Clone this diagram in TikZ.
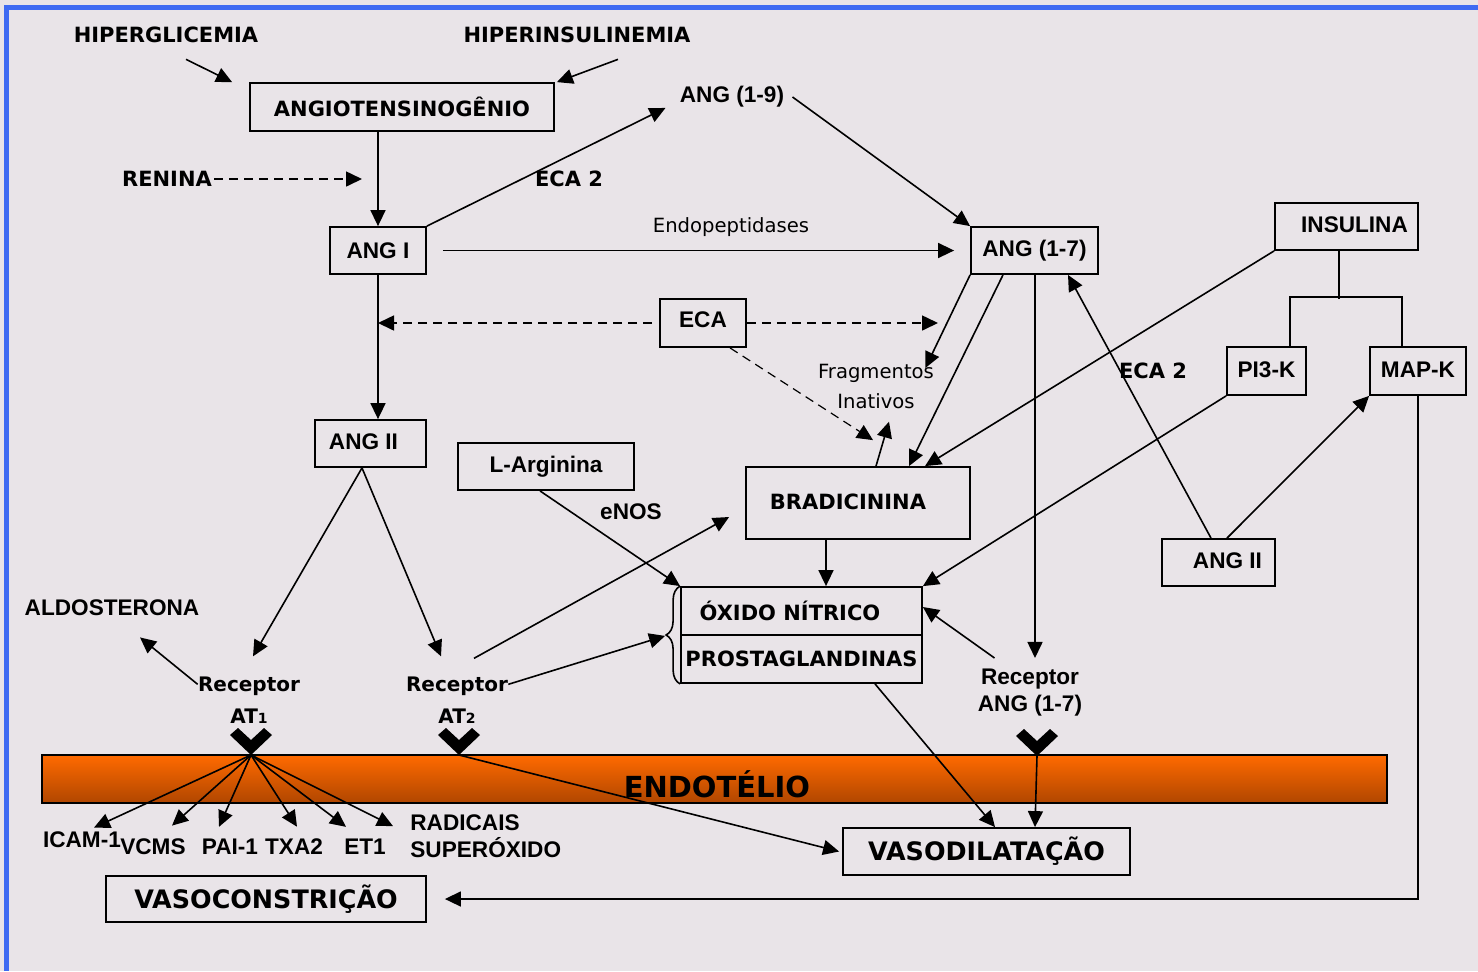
\documentclass[tikz,border=0pt]{standalone}
\usepackage{fontspec}
\setmainfont{Liberation Sans}
\newfontfamily\comicfont{DejaVu Sans}
\usetikzlibrary{arrows.meta,decorations.pathreplacing}
\definecolor{fundo}{HTML}{E9E4E8}
\definecolor{azul}{HTML}{3F6AF2}
\definecolor{laranja}{HTML}{FF6A00}
\definecolor{laranjamed}{HTML}{F26200}
\definecolor{laranjaesc}{HTML}{B04600}
\begin{document}
\begin{tikzpicture}[x=0.5pt, y=-0.5pt,
    caixa/.style={draw, line width=0.9pt, inner sep=0pt},
    arial/.style={font=\bfseries\fontsize{11.3}{13.5}\selectfont, inner sep=0pt},
    comic/.style={font=\comicfont\bfseries\fontsize{10.5}{16}\selectfont, inner sep=0pt},
    comicfino/.style={font=\comicfont\fontsize{9.8}{15}\selectfont, inner sep=0pt},
    seta/.style={-{Triangle[length=8pt,width=7.5pt]}, line width=0.8pt},
    tracejada/.style={seta, dash pattern=on 4.5pt off 3pt}]
    % Fundo e moldura
    \useasboundingbox (0,0) rectangle (1478,971);
    \fill[fundo] (0,0) rectangle (1478,971);
    \fill[azul] (4,5) rectangle (1478,10);
    \fill[azul] (4,5) rectangle (9,971);
    % Endotelio
    \node[draw, line width=0.8pt, inner sep=0pt, top color=laranja, middle color=laranjamed, bottom color=laranjaesc,
      minimum width=672.5pt, minimum height=24pt] (endot) at (714.5,779) {};
    \node[comic, font=\comicfont\bfseries\fontsize{14.5}{16}\selectfont] (endotxt) at (717,784) {ENDOTÉLIO};
    % Cascata superior
    \node[comic] (hiperg) at (166,35) {HIPERGLICEMIA};
    \node[comic] (hiperins) at (577,35) {HIPERINSULINEMIA};
    \node[caixa, comic, minimum width=152pt, minimum height=24pt] (angiot) at (402,107) {ANGIOTENSINOGÊNIO};
    \node[arial] (ang19) at (732,97) {ANG (1-9)};
    \node[comic] (renina) at (167,179) {RENINA};
    \coordinate (renTip) at (362,179);
    \node[caixa, arial, minimum width=48pt, minimum height=23.5pt] (angI) at (378,250.5) {ANG I};
    \node[comic] (eca2a) at (569,179) {ECA 2};
    \node[comicfino] (endo) at (731,227) {Endopeptidases};
    \node[caixa, arial, minimum width=63.5pt, minimum height=23.5pt] (ang17) at (1034.5,250.5) {ANG (1-7)};
    % Insulina
    \node[caixa, arial, minimum width=71.5pt, minimum height=23.5pt] (insulina) at (1346.5,226.5) {\raisebox{1.5pt}{\hspace{8pt}INSULINA}};
    \node[caixa, arial, minimum width=39.5pt, minimum height=24pt] (pik) at (1266.5,371) {\raisebox{1.5pt}{PI3-K}};
    \node[caixa, arial, minimum width=48pt, minimum height=24pt] (mapk) at (1418,371) {\raisebox{1.5pt}{MAP-K}};
    % ECA
    \node[caixa, arial, minimum width=43pt, minimum height=24pt] (eca) at (703,323) {\raisebox{3pt}{ECA}};
    \coordinate (ecaTip) at (938,323);
    \node[comicfino, align=center] (frag) at (876,386) {Fragmentos\\Inativos};
    \node[caixa, arial, minimum width=55.5pt, minimum height=23.5pt] (angII) at (370.5,443.5) {\raisebox{2pt}{ANG II\hspace{7pt}}};
    \node[caixa, arial, minimum width=88pt, minimum height=23.5pt] (larg) at (546,466.5) {\raisebox{1.5pt}{L-Arginina}};
    \node[arial] (enos) at (631,512) {eNOS};
    \node[caixa, comic, minimum width=112pt, minimum height=36pt] (brad) at (858,503) {\raisebox{1pt}{BRADICININA\hspace{10pt}}};
    \node[caixa, arial, minimum width=56.5pt, minimum height=23.5pt] (angIIb) at (1218.5,562.5) {\raisebox{2pt}{\hspace{9pt}ANG II}};
    \node[comic] (eca2b) at (1153,371) {ECA 2};
    \node[caixa, comic, minimum width=120.5pt, minimum height=24pt] (oxido) at (801.5,611) {\raisebox{0pt}{ÓXIDO NÍTRICO\hspace{11.5pt}}};
    \node[caixa, comic, minimum width=120.5pt, minimum height=24pt] (prosta) at (801.5,659) {PROSTAGLANDINAS};
    % Receptores
    \node[arial, align=center] (rec17) at (1030,693) {Receptor\\ANG (1-7)};
    \node[arial] (aldo) at (112,608) {ALDOSTERONA};
    \node[comic, font=\comicfont\bfseries\fontsize{10}{16}\selectfont, align=center] (recat1) at (249,700) {Receptor\\AT{\fontsize{7}{8}\selectfont 1}};
    \node[comic, font=\comicfont\bfseries\fontsize{10}{16}\selectfont, align=center] (recat2) at (457,700) {Receptor\\AT{\fontsize{7}{8}\selectfont 2}};
    \coordinate (at1) at (251,741);
    \coordinate (at2) at (459,741);
    \coordinate (r17) at (1037,742);
    \coordinate (at1tip) at (251,755);
    \coordinate (at2tip) at (459,755);
    \coordinate (r17tip) at (1037,756);
    \foreach \p in {at1,at2,r17}
      \fill[shift={(\p)}] (0,14) -- (-21,-6) -- (-13,-13) -- (0,-1) -- (13,-13) -- (21,-6) -- cycle;
    % Produtos
    \node[arial] (icam) at (82,840) {ICAM-1};
    \node[arial] (vcms) at (153,847) {VCMS};
    \node[arial] (pai) at (230,847) {PAI-1};
    \node[arial] (txa) at (294,847) {TXA2};
    \node[arial] (et1) at (365,847) {ET1};
    \node[arial, align=left, anchor=west] (radic) at (410,836) {RADICAIS\\SUPERÓXIDO};
    \node[caixa, comic, font=\comicfont\bfseries\fontsize{12.7}{15}\selectfont, minimum width=143.5pt, minimum height=23.5pt] (vasod) at (986.5,851.5) {VASODILATAÇÃO};
    \node[caixa, comic, font=\comicfont\bfseries\fontsize{12.7}{15}\selectfont, minimum width=160pt, minimum height=23pt] (vasoc) at (266,899) {VASOCONSTRIÇÃO};
    % Setas
    \draw[seta] ([xshift=10pt,yshift=-8pt]hiperg.south) -- ([xshift=-8.5pt]angiot.north west);
    \draw[seta] ([xshift=20.5pt,yshift=-8pt]hiperins.south) -- ([xshift=1pt]angiot.north east);
    \draw[seta] ([xshift=-12pt]angiot.south) -- (angI.north);
    \draw[tracejada] ([xshift=1pt]renina.east) -- (renTip);
    \draw[seta] (angI.north east) -- ([xshift=-7pt]ang19.south west);
    \draw[seta] ([xshift=4pt]ang19.east) -- (ang17.north west);
    \draw[seta] ([xshift=8pt]angI.east) -- ([xshift=-8pt]ang17.west);
    \draw[tracejada] ([xshift=-3.5pt]eca.west) -- (angI.south |- eca.west);
    \draw[tracejada] (eca.east) -- (ecaTip);
    \draw[tracejada, line width=0.6pt] ([xshift=13.5pt]eca.south) -- ([xshift=7.5pt,yshift=13pt]brad.north);
    \draw[seta] ([xshift=9pt]brad.north) -- ([xshift=6.5pt,yshift=-6.5pt]frag.south);
    \draw[seta] (ang17.south west) -- ([xshift=-4.5pt,yshift=9pt]frag.east);
    \draw[seta] ([xshift=-15.75pt]ang17.south) -- ([xshift=25.5pt]brad.north);
    \draw[seta] ([xshift=0.25pt]ang17.south) -- ([xshift=2.5pt,yshift=5.5pt]rec17.north);
    \draw[seta] ([xshift=-3.75pt]angIIb.north) -- ([xshift=16.75pt]ang17.south);
    \draw[seta] ([xshift=4.25pt]angIIb.north) -- (mapk.south west);
    \draw[seta] (insulina.south west) -- ([xshift=33.5pt]brad.north);
    \draw[seta] (pik.south west) -- (oxido.north east);
    \draw[line width=0.8pt] ([xshift=-3.75pt]insulina.south) -- ++(0,48);
    \draw[line width=0.8pt] ([xshift=11.75pt]pik.north) -- ++(0,-49) -| ([xshift=-8pt]mapk.north);
    \draw[seta] (mapk.south) |- ([xshift=9pt]vasoc.east);
    \draw[seta] ([xshift=-16pt]brad.south) -- ([xshift=12.25pt]oxido.north);
    \draw[seta] ([xshift=8.5pt,yshift=5.5pt]rec17.north west) -- ([yshift=2pt]oxido.east);
    \draw[seta] ([xshift=-3pt]larg.south) -- (oxido.north west);
    \draw[seta] (angI.south) -- (angI.south |- angII.north);
    \draw[seta] ([xshift=-4.25pt]angII.south) -- ([xshift=2pt,yshift=10pt]recat1.north);
    \draw[seta] ([xshift=-4.25pt]angII.south) -- ([xshift=-8pt,yshift=10pt]recat2.north);
    \draw[seta] ([yshift=-4pt]recat1.north west) -- ([xshift=14pt,yshift=-10.5pt]aldo.south);
    \draw[seta] ([xshift=8.5pt,yshift=9pt]recat2.north) -- ([xshift=-8pt,yshift=-7pt]brad.west);
    \draw[line width=0.8pt, decorate, decoration={brace, amplitude=7pt}] (prosta.south west) -- (oxido.north west);
    \draw[seta] ([yshift=-4pt]recat2.north east) -- ([xshift=-7.5pt]oxido.south west);
    % Leque AT1
    \draw[seta] (at1tip) -- ([xshift=6pt,yshift=2pt]icam.north);
    \draw[seta] (at1tip) -- ([xshift=9.5pt,yshift=6.5pt]vcms.north);
    \draw[seta] (at1tip) -- ([xshift=-5.5pt,yshift=6pt]pai.north);
    \draw[seta] (at1tip) -- ([xshift=1.5pt,yshift=6pt]txa.north);
    \draw[seta] (at1tip) -- ([xshift=-9.5pt,yshift=6pt]et1.north);
    \draw[seta] (at1tip) -- ([xshift=-8.5pt,yshift=-6pt]radic.north west);
    % Vasodilatacao
    \draw[seta] (at2tip) -- ([xshift=-1.5pt]vasod.west);
    \draw[seta] ([xshift=36.75pt]prosta.south) -- ([xshift=4.25pt]vasod.north);
    \draw[seta] (r17tip) -- ([xshift=24.25pt]vasod.north);
\end{tikzpicture}
\end{document}
